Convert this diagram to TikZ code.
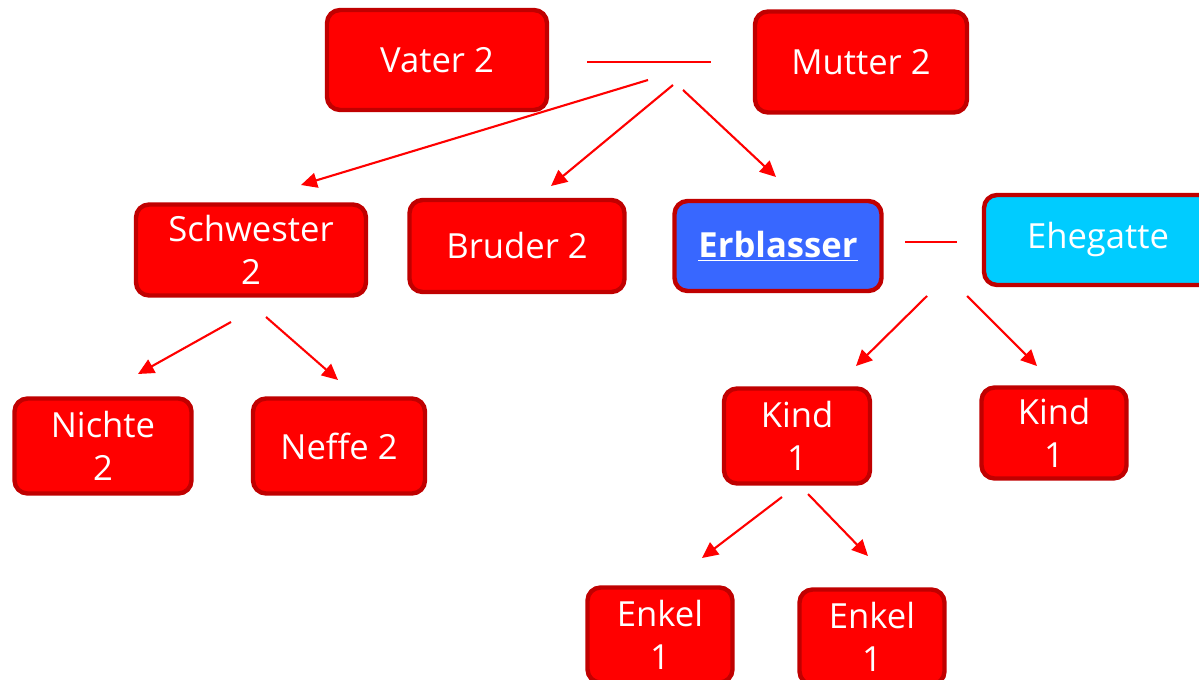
\documentclass[tikz,border=0pt]{standalone}
\usepackage{fontspec}
\setmainfont{Open Sans}
\usetikzlibrary{arrows.meta}
\definecolor{boxred}{HTML}{FF0000}
\definecolor{rimred}{HTML}{C00000}
\definecolor{heirblue}{HTML}{3867FF}
\definecolor{spousecyan}{HTML}{00CCFF}
\begin{document}
\begin{tikzpicture}[x=0.02cm, y=-0.02cm,
    person/.style={draw=rimred, fill=boxred, line width=2.5pt, rounded corners=0.26cm,
      text=white, align=center, inner sep=0pt, font=\fontsize{19.7}{24.5}\selectfont}]
  \useasboundingbox (0,0) rectangle (1199,679);
  \begin{scope}[every node/.style={person}]
    \node[minimum width=4.4cm, minimum height=2cm] (vater) at (437,60) {Vater 2};
    \node[minimum width=4.24cm, minimum height=2.02cm] (mutter) at (861,62) {Mutter 2};
    \node[minimum width=4.6cm, minimum height=1.82cm] (schwester) at (251,250) {Schwester\\2};
    \node[minimum width=4.3cm, minimum height=1.84cm] (bruder) at (517,246) {Bruder 2};
    \node[minimum width=4.14cm, minimum height=1.8cm, fill=heirblue] (erblasser) at (778,246) {\underline{\textbf{Erblasser}}};
    \node[minimum width=4.56cm, minimum height=1.8cm, fill=spousecyan] (ehegatte) at (1098,240) {Ehegatte};
    \node[minimum width=3.54cm, minimum height=1.9cm] (nichte) at (103,446) {Nichte\\2};
    \node[minimum width=3.44cm, minimum height=1.9cm] (neffe) at (339,446) {Neffe 2};
    \node[minimum width=2.92cm, minimum height=1.9cm] (kind1) at (797,436) {Kind\\1};
    \node[minimum width=2.9cm, minimum height=1.82cm] (kind2) at (1054,433) {Kind\\1};
    \node[minimum width=2.9cm, minimum height=1.9cm] (enkel1) at (660,635) {Enkel\\1};
    \node[minimum width=2.9cm, minimum height=1.9cm] (enkel2) at (872,637) {Enkel\\1};
  \end{scope}
  % free ends of the connectors
  \coordinate (eltern-l) at (587,62);
  \coordinate (eltern-r) at (711,62);
  \coordinate (eltern-s) at (648,80);
  \coordinate (eltern-b) at (673,85);
  \coordinate (eltern-e) at (683,90);
  \coordinate (schwester-in) at (301,185);
  \coordinate (bruder-in) at (551,186);
  \coordinate (erblasser-in) at (776,177);
  \coordinate (ehe-l) at (905,242);
  \coordinate (ehe-r) at (957,242);
  \coordinate (schwester-l) at (231,322);
  \coordinate (schwester-r) at (266,317);
  \coordinate (nichte-in) at (138,374);
  \coordinate (neffe-in) at (338,380);
  \coordinate (erblasser-l) at (927,296);
  \coordinate (erblasser-r) at (967,296);
  \coordinate (kind1-in) at (856,366);
  \coordinate (kind2-in) at (1037,366);
  \coordinate (kind1-l) at (782,497);
  \coordinate (kind1-r) at (808,494);
  \coordinate (enkel1-in) at (702,558);
  \coordinate (enkel2-in) at (868,556);
  \begin{scope}[every edge/.style={draw=boxred, line width=1.2pt}]
    \path (eltern-l) edge (eltern-r);
    \path (ehe-l) edge (ehe-r);
  \end{scope}
  \begin{scope}[every edge/.style={draw=boxred, line width=1.2pt, -{Triangle[length=0.32cm, width=0.3cm]}}]
    \path (eltern-s) edge (schwester-in);
    \path (eltern-b) edge (bruder-in);
    \path (eltern-e) edge (erblasser-in);
    \path (schwester-l) edge (nichte-in);
    \path (schwester-r) edge (neffe-in);
    \path (erblasser-l) edge (kind1-in);
    \path (erblasser-r) edge (kind2-in);
    \path (kind1-l) edge (enkel1-in);
    \path (kind1-r) edge (enkel2-in);
  \end{scope}
\end{tikzpicture}
\end{document}
